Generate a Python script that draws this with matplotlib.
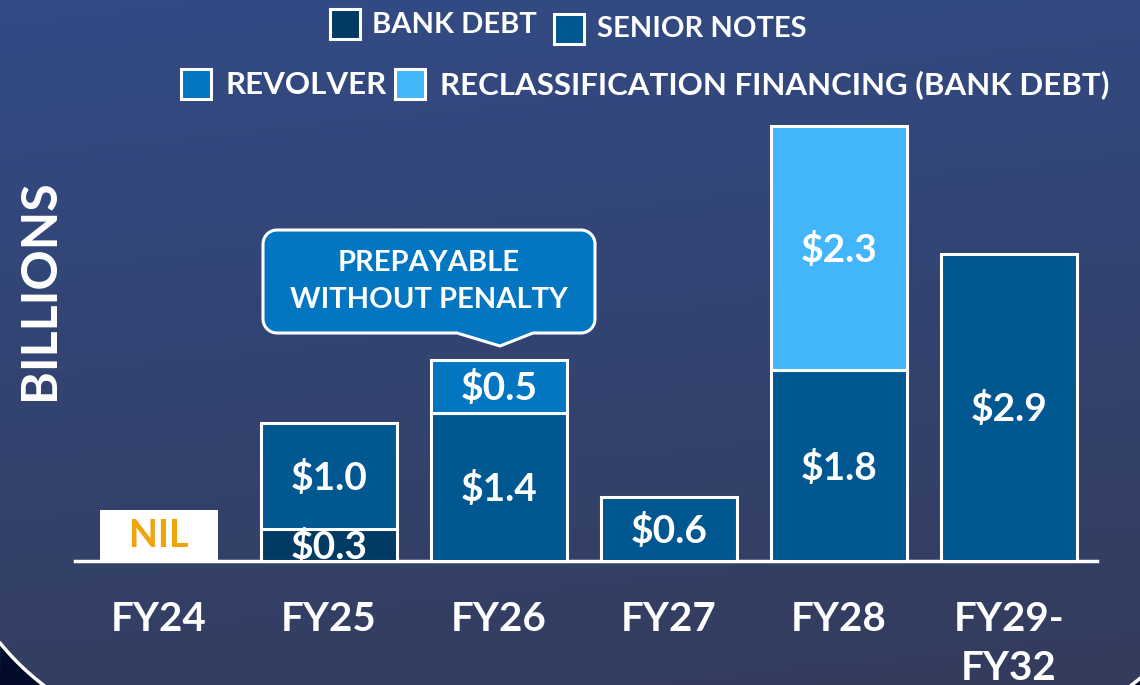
import numpy as np
import matplotlib.pyplot as plt
from matplotlib import patches

plt.rcParams['font.family'] = ['Lato', 'DejaVu Sans']
plt.rcParams['font.weight'] = 'bold'

# maturities by fiscal year, $ billions
categories = ['FY24', 'FY25', 'FY26', 'FY27', 'FY28', 'FY29-\nFY32']
bank_debt = [0, 0.3, 0, 0, 0, 0]
senior_notes = [0, 1.0, 1.4, 0.6, 1.8, 2.9]
revolver = [0, 0, 0.5, 0, 0, 0]
reclass_financing = [0, 0, 0, 0, 2.3, 0]

series = [
    ('BANK DEBT', bank_debt, '#013a63'),
    ('SENIOR NOTES', senior_notes, '#01578f'),
    ('REVOLVER', revolver, '#0276c0'),
    ('RECLASSIFICATION FINANCING (BANK DEBT)', reclass_financing, '#43b6fb'),
]

W, H = 1140, 685
fig = plt.figure(figsize=(W / 100, H / 100), dpi=100)

# background gradient
bg = fig.add_axes([0, 0, 1, 1], zorder=0)
yy, xx = np.mgrid[0:1:200j, 0:1:200j]
t = np.clip(0.85 * yy + 0.15 * xx, 0, 1)[..., None]
top = np.array([0x32, 0x4b, 0x86]) / 255
bot = np.array([0x34, 0x3c, 0x5c]) / 255
bg.imshow(top * (1 - t) + bot * t, extent=[0, W, H, 0], aspect='auto')
bg.set_xlim(0, W)
bg.set_ylim(H, 0)
bg.axis('off')

# main chart, 170 px per category, 106 px per billion
ax = fig.add_axes([0, 0, 1, 1], zorder=1)
ax.patch.set_alpha(0)
ax.set_xlim(-159 / 170, (W - 159) / 170)
ax.set_ylim(-124 / 106, 561 / 106)
ax.axis('off')

x = np.arange(len(categories))
ax.axhline(0, xmin=75 / W, xmax=1097 / W, color='white', lw=2.5, zorder=1)

bottom = np.zeros(len(categories))
for name, vals, color in series:
    vals = np.array(vals, dtype=float)
    m = vals > 0
    ax.bar(x[m], vals[m], bottom=bottom[m], width=0.8, color=color,
           edgecolor='white', linewidth=2.2, zorder=2)
    for xi, v, b in zip(x[m], vals[m], bottom[m]):
        ax.text(xi, b + v / 2 - 0.02, '\\$%.1f' % v, color='white',
                fontsize=28, ha='center', va='center', zorder=3)
    bottom += vals

# FY24 has nothing maturing
ax.bar(0, 0.48, width=0.69, color='white', zorder=2)
ax.text(0, 0.24, 'NIL', color='#f0a30a', fontsize=27, ha='center',
        va='center', zorder=3)

for xi, lab in zip(x, categories):
    ax.text(xi, -0.375, lab, color='white', fontsize=29, ha='center',
            va='top', linespacing=1.42)

# overlay in pixel coords: legend, callout, corners
px = fig.add_axes([0, 0, 1, 1], zorder=2)
px.patch.set_alpha(0)
px.set_xlim(0, W)
px.set_ylim(H, 0)
px.axis('off')

legend_pos = [(330, 9, 372, 25, 21), (554, 14, 597, 29, 21),
              (181, 69, 226, 85, 22.5), (395, 69, 440, 85, 22.5)]
for (name, _, color), (sx, sy, tx, ty, fs) in zip(series, legend_pos):
    px.add_patch(patches.Rectangle((sx, sy), 30, 30, facecolor=color,
                                   edgecolor='white', lw=2.2))
    px.text(tx, ty, name, color='white', fontsize=fs, ha='left',
            va='center')

px.text(40, 290, 'BILLIONS', color='white', fontsize=36, rotation=90,
        ha='center', va='center')

# callout bubble
x0, y0, x1, y1, r = 263, 230, 595, 333, 14
pts = []
for cx, cy, a0 in [(x1 - r, y0 + r, -90), (x1 - r, y1 - r, 0),
                   (x0 + r, y1 - r, 90), (x0 + r, y0 + r, 180)]:
    a = np.radians(np.linspace(a0, a0 + 90, 12))
    pts += list(zip(cx + r * np.cos(a), cy + r * np.sin(a)))
    if a0 == 0:
        pts += [(533, y1), (500, 346), (457, y1)]
px.add_patch(patches.Polygon(pts, closed=True, facecolor='#0276c0',
                             edgecolor='white', lw=2.2))
px.text(429, 263, 'PREPAYABLE', color='white', fontsize=21, ha='center',
        va='center')
px.text(429, 300, 'WITHOUT PENALTY', color='white', fontsize=21,
        ha='center', va='center')

# rounded panel corners at the bottom
R = 258
for cx, cy, corner, a_from, a_to in [(200, 480, (0, H), 140.7, 127.4),
                                     (975, 480, (W, H), 39.8, 52.6)]:
    a = np.radians(np.linspace(a_from, a_to, 30))
    arc = list(zip(cx + R * np.cos(a), cy + R * np.sin(a)))
    px.add_patch(patches.Polygon(arc + [corner], closed=True,
                                 facecolor='#020b29', edgecolor='none'))
    px.plot([p[0] for p in arc], [p[1] for p in arc], color='white', lw=2.5)

fig.savefig('out.png', dpi=100)
